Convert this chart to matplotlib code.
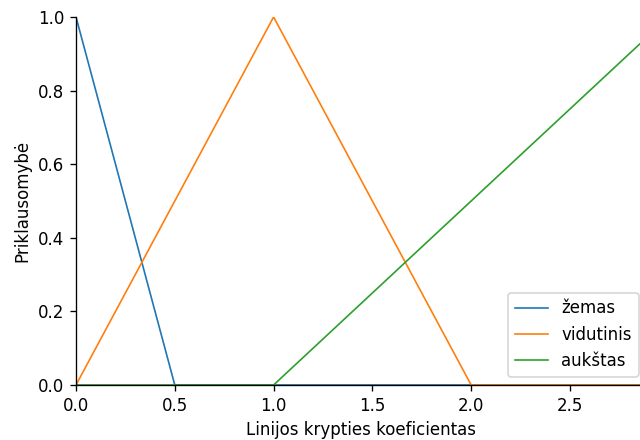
import matplotlib
matplotlib.use("Agg")
import matplotlib.pyplot as plt

# Breakpoints of the universe (line slope coefficient)
x_points = [0.0, 0.5, 1.0, 2.0, 2.89]

# Membership degrees at each breakpoint
zemas = [1.0, 0.0, 0.0, 0.0, 0.0]
vidutinis = [0.0, 0.5, 1.0, 0.0, 0.0]
aukstas = [0.0, 0.0, 0.0, 0.5, 0.945]

labels = ["žemas", "vidutinis", "aukštas"]

DPI = 120
W, H = 640, 440
fig = plt.figure(figsize=(W / DPI, H / DPI), dpi=DPI)
ax = fig.add_axes([76 / W, 55 / H, 571 / W, 368 / H])

ax.plot(x_points, zemas, color="#1f77b4", lw=1.0, label=labels[0])
ax.plot(x_points, vidutinis, color="#ff7f0e", lw=1.0, label=labels[1])
ax.plot(x_points, aukstas, color="#2ca02c", lw=1.0, label=labels[2])

ax.set_xlim(0, 2.89)
ax.set_ylim(0, 1.0)
ax.set_xticks([0.0, 0.5, 1.0, 1.5, 2.0, 2.5])
ax.set_yticks([0.0, 0.2, 0.4, 0.6, 0.8, 1.0])
ax.spines["top"].set_visible(False)
ax.spines["right"].set_visible(False)

ax.set_xlabel("Linijos krypties koeficientas")
ax.set_ylabel("Priklausomybė")
ax.legend(loc="lower right")

fig.savefig("out.png", dpi=DPI)
